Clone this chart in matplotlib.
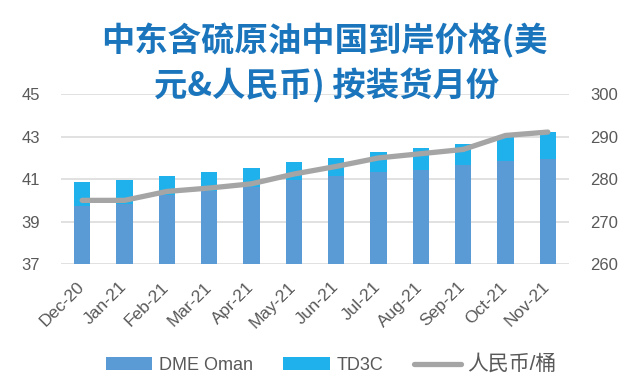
import matplotlib
matplotlib.use("Agg")
import matplotlib.pyplot as plt
from matplotlib.transforms import ScaledTranslation
import numpy as np

plt.rcParams['font.family'] = ['Liberation Sans', 'Noto Sans CJK SC', 'DejaVu Sans']

# ---- data ----
months = ["Dec-20", "Jan-21", "Feb-21", "Mar-21", "Apr-21", "May-21",
          "Jun-21", "Jul-21", "Aug-21", "Sep-21", "Oct-21", "Nov-21"]
dme_oman = [39.75, 39.85, 40.25, 40.45, 40.65, 40.95, 41.15, 41.35, 41.45, 41.65, 41.85, 41.95]
td3c = [1.13, 1.13, 0.92, 0.91, 0.89, 0.88, 0.87, 0.95, 1.04, 1.03, 1.20, 1.28]
rmb_per_bbl = [275.0, 275.0, 277.1, 277.9, 278.9, 281.2, 283.0, 285.0, 286.0, 287.0, 290.3, 291.1]
left_ticks = [37, 39, 41, 43, 45]
right_ticks = [260, 270, 280, 290, 300]
title_lines = ["中东含硫原油中国到岸价格(美", "元&人民币) 按装货月份"]
legend_labels = ["DME Oman", "TD3C", "人民币/桶"]

c_dme = '#5B9BD5'
c_td3c = '#1FB1EC'
c_line = '#A5A5A5'
c_grid = '#D9D9D9'
c_text = '#595959'
c_title = '#1B75BC'

fig = plt.figure(figsize=(6.38, 3.92), dpi=100)
ax = fig.add_axes([61/638, 1 - 264/392, 508/638, 169.7/392])
x = np.arange(len(months))

b1 = ax.bar(x, dme_oman, width=0.38, color=c_dme, zorder=2, label=legend_labels[0])
b2 = ax.bar(x, td3c, width=0.38, bottom=dme_oman, color=c_td3c, zorder=2, label=legend_labels[1])
ax.set_ylim(37, 45)
ax.set_xlim(-0.5, len(months) - 0.5)
ax.set_yticks(left_ticks)
ax.yaxis.grid(True, color=c_grid, linewidth=1.1, zorder=0)
ax.set_axisbelow(True)
for s in ax.spines.values():
    s.set_visible(False)
ax.tick_params(axis='y', length=0, pad=15, labelsize=12, labelcolor=c_text)
ax.set_xticks(x)
ax.set_xticklabels(months, rotation=45, ha='right', va='top', fontsize=12.5, color=c_text)
ax.tick_params(axis='x', length=0, pad=11)
for lbl in ax.get_xticklabels():
    lbl.set_transform(lbl.get_transform() + ScaledTranslation(5/100, 0, fig.dpi_scale_trans))

ax2 = ax.twinx()
ln, = ax2.plot(x, rmb_per_bbl, color=c_line, linewidth=3.8, solid_capstyle='round',
               zorder=3, label=legend_labels[2])
ax2.set_ylim(260, 300)
ax2.set_yticks(right_ticks)
for s in ax2.spines.values():
    s.set_visible(False)
ax2.tick_params(axis='y', length=0, pad=15, labelsize=12, labelcolor=c_text)

fig.text(0.508, 1 - 41/392, title_lines[0], ha='center', va='center', fontsize=24,
         fontweight='bold', color=c_title, family=['Noto Sans CJK SC', 'DejaVu Sans'])
fig.text(0.512, 1 - 86/392, title_lines[1], ha='center', va='center', fontsize=24,
         fontweight='bold', color=c_title, family=['Noto Sans CJK SC', 'DejaVu Sans'])

leg = fig.legend([b1, b2, ln], legend_labels, loc='center', bbox_to_anchor=(0.519, 1 - 364/392),
                 ncol=3, frameon=False, fontsize=13, handlelength=2.6, handleheight=0.7,
                 handletextpad=0.35, columnspacing=1.7)
for t in leg.get_texts():
    t.set_color(c_text)
leg.get_texts()[2].set_fontsize(15)

fig.savefig("out.png", dpi=100)
